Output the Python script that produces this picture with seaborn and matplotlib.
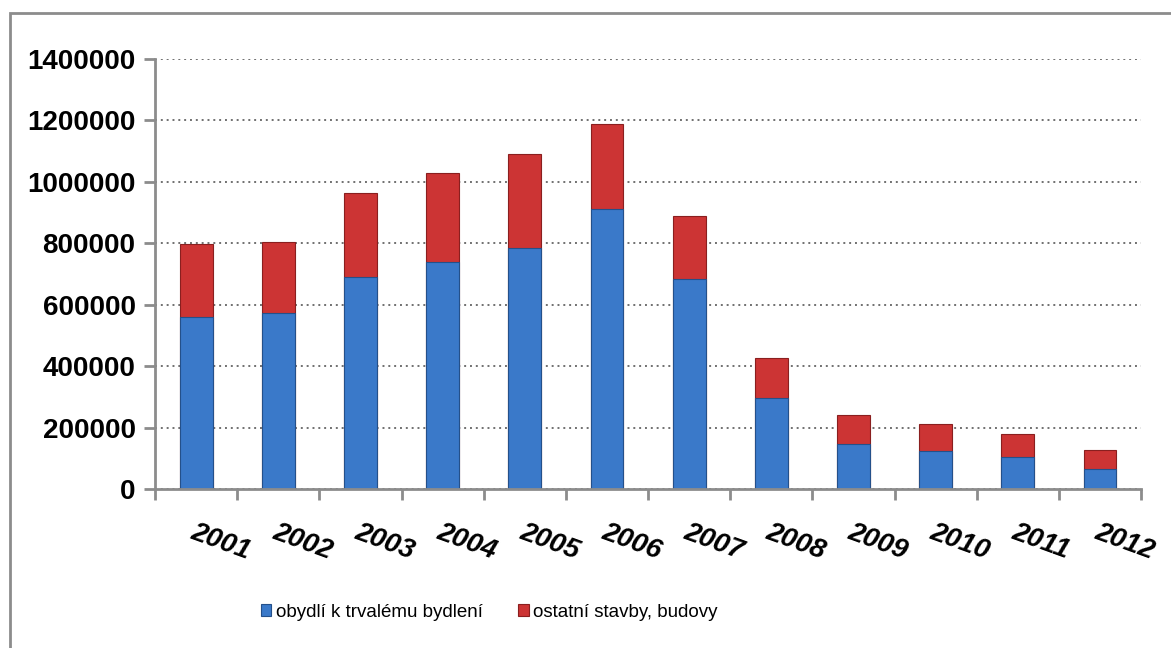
import numpy as np
import pandas as pd
import matplotlib
matplotlib.use("Agg")
import matplotlib.pyplot as plt
import seaborn as sns
from matplotlib.patches import Rectangle

# Data
years = ["2001", "2002", "2003", "2004", "2005", "2006",
         "2007", "2008", "2009", "2010", "2011", "2012"]
obydli = [560000, 573000, 690000, 739000, 785000, 912000,
          684000, 296000, 146000, 124000, 104000, 65000]
ostatni = [237000, 231000, 274000, 290000, 306000, 276000,
           205000, 131000, 95000, 88000, 75000, 62000]
labels = ["obydlí k trvalému bydlení", "ostatní stavby, budovy"]

df = pd.DataFrame({"rok": years, "obydli": obydli, "ostatni": ostatni})
df["celkem"] = df["obydli"] + df["ostatni"]

sns.set_style("white")
plt.rcParams["font.family"] = ["Liberation Sans", "DejaVu Sans"]
plt.rcParams["text.color"] = "black"
plt.rcParams["xtick.color"] = "black"
plt.rcParams["ytick.color"] = "black"

blue = "#3a79c9"
red = "#cc3434"

fig = plt.figure(figsize=(11.71, 6.48), dpi=100)
ax = fig.add_axes([0.1324, 0.2454, 0.842, 0.6636])

# stacked bars: total in red, blue part on top of it
sns.barplot(data=df, x="rok", y="celkem", color=red, width=0.4, saturation=1,
            edgecolor="#8a1f1f", linewidth=0.8, ax=ax, label=labels[1])
sns.barplot(data=df, x="rok", y="obydli", color=blue, width=0.4, saturation=1,
            edgecolor="#24508a", linewidth=0.8, ax=ax, label=labels[0])

ax.set_ylim(0, 1400000)
ax.set_xlim(-0.5, len(years) - 0.5)
ax.set_yticks(np.arange(0, 1400001, 200000))
ax.set_yticklabels([str(v) for v in range(0, 1400001, 200000)],
                   fontsize=20, fontweight="bold")
ax.yaxis.grid(True, linestyle=(0, (1, 2)), color="#707070", linewidth=1.4)
ax.set_axisbelow(True)

# ticks between categories, labels at category centers
ax.set_xticks(np.arange(-0.5, len(years), 1.0), minor=True)
ax.set_xticks(np.arange(len(years)))
ax.set_xticklabels(years, fontsize=20, fontweight="bold", style="italic",
                   rotation=-20, ha="left", rotation_mode="anchor")
ax.tick_params(axis="x", which="major", bottom=False, length=0, pad=22)
ax.tick_params(axis="x", which="minor", bottom=True, length=8, width=2,
               color="#8c8c8c")
ax.tick_params(axis="y", left=True, length=8, width=2, color="#8c8c8c",
               labelcolor="black", pad=6)

ax.set_xlabel("")
ax.set_ylabel("")
for side in ["top", "right"]:
    ax.spines[side].set_visible(False)
for side in ["left", "bottom"]:
    ax.spines[side].set_color("#8c8c8c")
    ax.spines[side].set_linewidth(2)

# legend below the plot, blue first
handles, lbls = ax.get_legend_handles_labels()
order = [lbls.index(labels[0]), lbls.index(labels[1])]
if ax.get_legend():
    ax.get_legend().remove()
fig.legend([handles[i] for i in order], [lbls[i] for i in order],
           loc="center", bbox_to_anchor=(0.418, 0.055), ncol=2, frameon=False,
           fontsize=13.5, handlelength=0.55, handleheight=0.6, handletextpad=0.25,
           columnspacing=1.9)

# outer chart frame
fig.patches.append(Rectangle((10 / 1171, -0.01), 1.1, 1 - 13 / 648 + 0.01,
                             transform=fig.transFigure, fill=False,
                             edgecolor="#8c8c8c", linewidth=2))

fig.savefig("out.png", dpi=100)
